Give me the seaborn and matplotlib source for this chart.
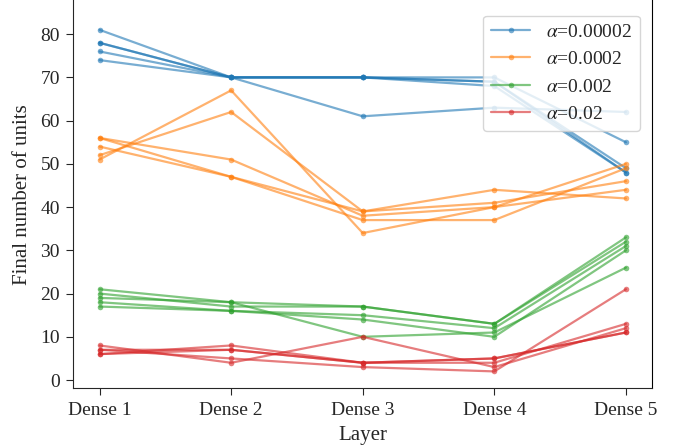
import numpy as np
import pandas as pd
import seaborn as sns
from matplotlib import pyplot as plt

layers = ['Dense 1', 'Dense 2', 'Dense 3', 'Dense 4', 'Dense 5']
alphas = ['0.00002', '0.0002', '0.002', '0.02']

# final number of units per run, one list per run
runs_a1 = [[81, 70, 70, 70, 55],
           [78, 70, 70, 69, 49],
           [78, 70, 70, 69, 48],
           [76, 70, 61, 63, 62],
           [74, 70, 70, 68, 48]]
runs_a2 = [[51, 67, 34, 40, 50],
           [52, 62, 39, 44, 42],
           [56, 47, 39, 41, 46],
           [56, 51, 38, 40, 44],
           [54, 47, 37, 37, 49]]
runs_a3 = [[21, 18, 10, 11, 26],
           [20, 17, 17, 13, 33],
           [19, 18, 17, 13, 32],
           [18, 16, 15, 12, 31],
           [17, 16, 14, 10, 30]]
runs_a4 = [[8, 4, 10, 3, 12],
           [7, 5, 3, 2, 21],
           [6, 8, 4, 5, 11],
           [6, 7, 4, 5, 11],
           [7, 7, 4, 4, 13]]

all_runs = [runs_a1, runs_a2, runs_a3, runs_a4]

sns.set_style('ticks')
plt.rcParams['font.family'] = ['Liberation Serif', 'DejaVu Serif']
plt.rcParams['mathtext.fontset'] = 'stix'

fig = plt.figure(figsize=(6.78, 4.45), dpi=100)
ax = fig.add_axes([0.108, 0.127, 0.854, 0.873])

colors = sns.color_palette('tab10')
for i, runs in enumerate(all_runs):
    for j, r in enumerate(runs):
        df = pd.DataFrame({'layer': layers, 'units': r})
        sns.lineplot(data=df, x='layer', y='units', ax=ax, color=colors[i],
                     marker='o', markersize=4, markeredgewidth=0, linewidth=1.6,
                     alpha=0.6, sort=False,
                     label=r'$\alpha$=' + alphas[i] if j == 0 else None)

ax.set_ylim(-1.95, 87.9)
ax.set_xlabel('Layer', fontsize=15, labelpad=5)
ax.set_ylabel('Final number of units', fontsize=15, labelpad=6)
ax.set_yticks(range(0, 81, 10))
ax.tick_params(labelsize=14, length=5, pad=4.5)
ax.spines['top'].set_visible(False)
ax.spines['right'].set_visible(True)
ax.spines['right'].set_color('black')
ax.legend(loc='upper right', bbox_to_anchor=(0.995, 0.985), fontsize=14,
          handlelength=2.0, framealpha=0.8)

fig.savefig('out.png', dpi=100)
